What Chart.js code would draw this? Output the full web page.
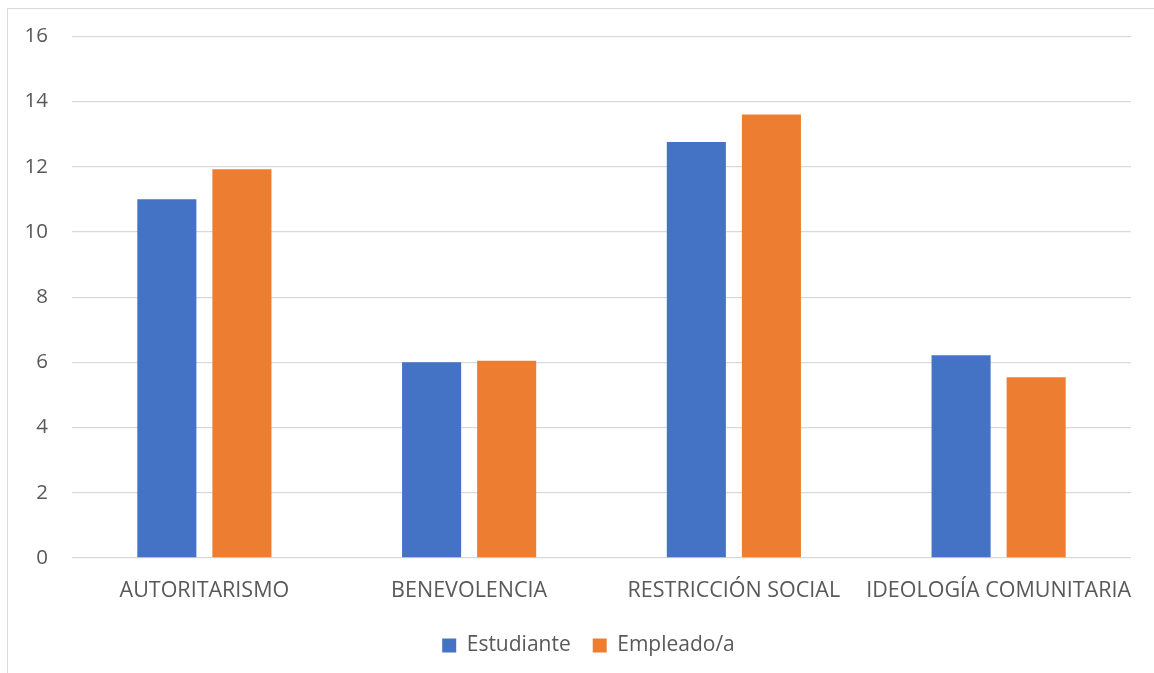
<!DOCTYPE html>
<html>
<head>
<meta charset="utf-8">
<script src="https://cdn.jsdelivr.net/npm/chart.js@4"></script>
<style>
  html, body { margin: 0; padding: 0; background: #fff; overflow: hidden; }
  #marco {
    position: absolute; left: 7px; top: 8px; width: 1170px; height: 690px;
    border: 1.5px solid #d9d9d9;
  }
  #zona { position: absolute; left: 0; top: 0; width: 1154px; height: 673px; }
</style>
</head>
<body>
<div id="marco"></div>
<div id="zona"><canvas id="grafico" width="1154" height="673"></canvas></div>
<script>
const categorias = ["AUTORITARISMO", "BENEVOLENCIA", "RESTRICCIÓN SOCIAL", "IDEOLOGÍA COMUNITARIA"];
const estudiante = [11.0, 6.0, 12.76, 6.22];
const empleado = [11.92, 6.05, 13.6, 5.54];
const ticksY = [0, 2, 4, 6, 8, 10, 12, 14, 16];

const gris = "#595959";
const fuente = "'Open Sans', 'Noto Sans', sans-serif";

// desplaza la leyenda para que quede centrada en el marco
const centrarLeyenda = {
  id: "centrarLeyenda",
  afterLayout(chart) {
    const l = chart.legend;
    if (l) { l.left += 23; l.right += 23; }
  }
};

const ctx = document.getElementById("grafico").getContext("2d");
new Chart(ctx, {
  type: "bar",
  data: {
    labels: categorias,
    datasets: [
      {
        label: "Estudiante",
        data: estudiante,
        backgroundColor: "#4472C4",
        categoryPercentage: 0.567,
        barPercentage: 0.787
      },
      {
        label: "Empleado/a",
        data: empleado,
        backgroundColor: "#ED7D31",
        categoryPercentage: 0.567,
        barPercentage: 0.787
      }
    ]
  },
  options: {
    responsive: false,
    animation: false,
    layout: { padding: { top: 36, right: 23, bottom: 7, left: 0 } },
    scales: {
      x: {
        grid: { display: false },
        border: { display: false },
        ticks: {
          color: gris,
          font: { family: fuente, size: 21.5 },
          padding: 12,
          maxRotation: 0,
          autoSkip: false
        },
        afterFit: s => { s.height = 55; }
      },
      y: {
        min: 0,
        max: 16,
        afterBuildTicks: s => { s.ticks = ticksY.map(v => ({ value: v })); },
        grid: { color: "#d9d9d9", lineWidth: 1.3, drawTicks: false },
        border: { display: false },
        ticks: { color: gris, font: { family: fuente, size: 20.5 }, padding: 24 },
        afterFit: s => { s.width = 72; }
      }
    },
    plugins: {
      legend: {
        position: "bottom",
        labels: {
          color: gris,
          font: { family: fuente, size: 21 },
          boxWidth: 14,
          boxHeight: 14,
          padding: 22
        }
      },
      tooltip: { enabled: false }
    }
  },
  plugins: [centrarLeyenda]
});
</script>
</body>
</html>
